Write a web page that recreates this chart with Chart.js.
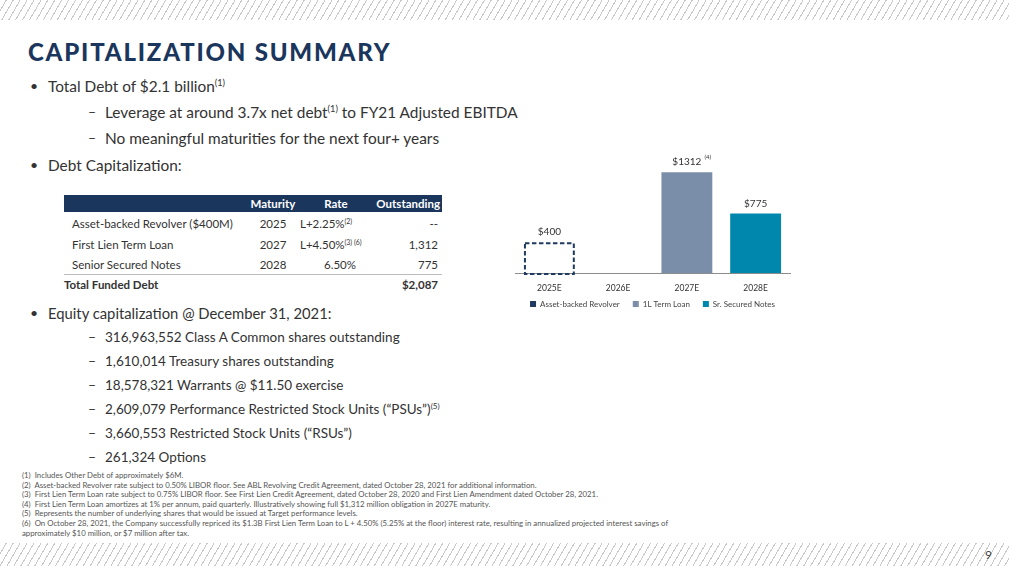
<!DOCTYPE html>
<html>
<head>
<meta charset="utf-8">
<script src="https://cdn.jsdelivr.net/npm/chart.js@4.4.1/dist/chart.umd.min.js"></script>
<style>
  html, body { margin: 0; padding: 0; }
  body { width: 1009px; height: 566px; position: relative; overflow: hidden; background: #fff; font-family: Lato, "Open Sans", sans-serif; color: #333; }
  .hatch { position: absolute; left: 0; width: 1009px;
    background: repeating-linear-gradient(120deg, #fff 0px, #fff 5px, #c9c9c9 5px, #c9c9c9 6px); }
  #title { position: absolute; left: 28px; top: 37px; font-size: 24px; font-weight: 900; letter-spacing: 1.8px; color: #1b365d; white-space: nowrap; }
  .line { position: absolute; line-height: 18px; white-space: nowrap; color: #333; }
  .line sup, .cell sup { font-size: 0.6em; vertical-align: 0.6em; line-height: 0; }
  .bul { position: absolute; font-size: 14px; line-height: 18px; }
  #tbl { position: absolute; left: 64px; top: 195px; width: 378px; }
  #thead { position: absolute; left: 0; top: 0; width: 378px; height: 17px; background: #1b365d; }
  .cell { position: absolute; font-size: 11.5px; line-height: 14px; white-space: nowrap; color: #333; }
  .hcell { color: #fff; font-weight: 700; }
  #rule { position: absolute; left: 0; top: 79px; width: 378px; height: 1px; background: #bbb; }
  #notes { position: absolute; left: 22px; top: 471px; font-size: 7.8px; line-height: 9.6px; color: #555; white-space: nowrap; }
  #page { position: absolute; left: 985px; top: 547px; font-size: 12px; color: #444; }
  #chartBox { position: absolute; left: 510px; top: 140px; width: 285px; height: 178px; }
</style>
</head>
<body>
<div class="hatch" style="top:0;height:20px"></div>
<div class="hatch" style="top:543px;height:23px"></div>

<div id="title">CAPITALIZATION SUMMARY</div>
<div id="text"></div>

<div id="tbl">
  <div id="thead"></div>
  <div id="rule"></div>
</div>

<div id="notes"></div>
<div id="page">9</div>

<div id="chartBox"><canvas id="debtChart"></canvas></div>

<script>
// Maturity chart data
const years = ["2025E", "2026E", "2027E", "2028E"];
const revolver = [400, null, null, null];
const termLoan = [null, null, 1312, null];
const securedNotes = [null, null, null, 775];
const seriesNames = ["Asset-backed Revolver", "1L Term Loan", "Sr. Secured Notes"];
const valueNotes = ["", "", "(4)", ""];

// Table data
const tableHeader = ["Maturity", "Rate", "Outstanding"];
const tableLabels = ["Asset-backed Revolver ($400M)", "First Lien Term Loan", "Senior Secured Notes"];
const tableMaturity = ["2025", "2027", "2028"];
const tableRate = ["L+2.25%<sup>(2)</sup>", "L+4.50%<sup>(3) (6)</sup>", "6.50%"];
const tableOutstanding = ["--", "1,312", "775"];
const tableTotal = ["Total Funded Debt", "$2,087"];

const bullets = [
  { y: 86, lvl: 0, size: 15.4, html: "Total Debt of $2.1 billion<sup>(1)</sup>" },
  { y: 112, lvl: 1, size: 15.4, html: "Leverage at around 3.7x net debt<sup>(1)</sup> to FY21 Adjusted EBITDA" },
  { y: 138, lvl: 1, size: 15.4, html: "No meaningful maturities for the next four+ years" },
  { y: 165, lvl: 0, size: 15.4, html: "Debt Capitalization:" },
  { y: 313, lvl: 0, size: 14.8, html: "Equity capitalization @ December 31, 2021:" },
  { y: 337, lvl: 1, size: 13.5, html: "316,963,552 Class A Common shares outstanding" },
  { y: 361, lvl: 1, size: 13.5, html: "1,610,014 Treasury shares outstanding" },
  { y: 385, lvl: 1, size: 13.5, html: "18,578,321 Warrants @ $11.50 exercise" },
  { y: 409, lvl: 1, size: 13.5, html: "2,609,079 Performance Restricted Stock Units (\u201cPSUs\u201d)<sup>(5)</sup>" },
  { y: 433, lvl: 1, size: 13.5, html: "3,660,553 Restricted Stock Units (\u201cRSUs\u201d)" },
  { y: 457, lvl: 1, size: 13.5, html: "261,324 Options" },
];

const footnotes = [
  "(1)&nbsp;&nbsp;Includes Other Debt of approximately $6M.",
  "(2)&nbsp;&nbsp;Asset-backed Revolver rate subject to 0.50% LIBOR floor. See ABL Revolving Credit Agreement, dated October 28, 2021 for additional information.",
  "(3)&nbsp;&nbsp;First Lien Term Loan rate subject to 0.75% LIBOR floor. See First Lien Credit Agreement, dated October 28, 2020 and First Lien Amendment dated October 28, 2021.",
  "(4)&nbsp;&nbsp;First Lien Term Loan amortizes at 1% per annum, paid quarterly. Illustratively showing full $1,312 million obligation in 2027E maturity.",
  "(5)&nbsp;&nbsp;Represents the number of underlying shares that would be issued at Target performance levels.",
  "(6)&nbsp;&nbsp;On October 28, 2021, the Company successfully repriced its $1.3B First Lien Term Loan to L + 4.50% (5.25% at the floor) interest rate, resulting in annualized projected interest savings of",
  "approximately $10 million, or $7 million after tax.",
];

const navy = "#1f3a60";
const slate = "#7b8ea9";
const teal = "#0087ae";

// Bullet text
const textBox = document.getElementById("text");
bullets.forEach(b => {
  const mark = document.createElement("div");
  mark.className = "bul";
  mark.textContent = b.lvl === 0 ? "\u2022" : "\u2013";
  mark.style.left = (b.lvl === 0 ? 30 : 88) + "px";
  mark.style.top = (b.y - 9) + "px";
  textBox.appendChild(mark);
  const line = document.createElement("div");
  line.className = "line";
  line.innerHTML = b.html;
  line.style.fontSize = b.size + "px";
  line.style.left = (b.lvl === 0 ? 48 : 105) + "px";
  line.style.top = (b.y - 9) + "px";
  textBox.appendChild(line);
});

// Table
const tbl = document.getElementById("tbl");
function addCell(html, x, y, align, cls) {
  const c = document.createElement("div");
  c.className = "cell" + (cls ? " " + cls : "");
  c.innerHTML = html;
  c.style.top = (y - 7) + "px";
  if (align === "right") c.style.right = (378 - x) + "px";
  else if (align === "center") { c.style.left = (x - 50) + "px"; c.style.width = "100px"; c.style.textAlign = "center"; }
  else c.style.left = x + "px";
  tbl.appendChild(c);
  return c;
}
addCell(tableHeader[0], 209, 9, "center", "hcell");
addCell(tableHeader[1], 272, 9, "center", "hcell");
addCell(tableHeader[2], 376, 9, "right", "hcell");
const rowY = [29, 50, 70];
tableLabels.forEach((lab, i) => {
  addCell(lab, 8, rowY[i], "left");
  addCell(tableMaturity[i], 209, rowY[i], "center");
  if (i < 2) addCell(tableRate[i], 236, rowY[i], "left");
  else addCell(tableRate[i], 276, rowY[i], "center");
  addCell(tableOutstanding[i], 374, rowY[i], "right");
});
addCell(tableTotal[0], 0, 90, "left").style.fontWeight = "700";
addCell(tableTotal[1], 374, 90, "right").style.fontWeight = "700";

document.getElementById("notes").innerHTML = footnotes.join("<br>");

// Dashed outline + value labels drawn from the bar elements
const barLabels = {
  id: "barLabels",
  afterDatasetsDraw(chart) {
    const ctx = chart.ctx;
    ctx.save();
    chart.data.datasets.forEach((ds, di) => {
      const meta = chart.getDatasetMeta(di);
      meta.data.forEach((bar, i) => {
        const v = ds.data[i];
        if (v == null) return;
        const p = bar.getProps(["x", "y", "base", "width"], true);
        if (di === 0) {
          ctx.setLineDash([4.5, 2.5]);
          ctx.lineWidth = 2;
          ctx.strokeStyle = navy;
          ctx.strokeRect(p.x - p.width / 2 + 1, p.y + 1, p.width - 2, p.base - p.y);
          ctx.setLineDash([]);
        }
        ctx.fillStyle = "#333";
        ctx.font = "10px Lato, sans-serif";
        ctx.textAlign = "center";
        ctx.textBaseline = "bottom";
        const txt = "$" + v;
        ctx.fillText(txt, p.x, p.y - 5);
        if (valueNotes[i]) {
          const w = ctx.measureText(txt).width;
          ctx.font = "6px Lato, sans-serif";
          ctx.textAlign = "left";
          ctx.fillText(valueNotes[i], p.x + w / 2 + 3, p.y - 12);
        }
      });
    });
    ctx.restore();
  }
};

const legendColors = [navy, slate, teal];

new Chart(document.getElementById("debtChart"), {
  type: "bar",
  data: {
    labels: years,
    datasets: [
      { label: seriesNames[0], data: revolver, backgroundColor: "rgba(0,0,0,0)", borderWidth: 0 },
      { label: seriesNames[1], data: termLoan, backgroundColor: slate, borderWidth: 0 },
      { label: seriesNames[2], data: securedNotes, backgroundColor: teal, borderWidth: 0 },
    ]
  },
  options: {
    responsive: true,
    maintainAspectRatio: false,
    animation: false,
    layout: { padding: { top: 10, left: 5, right: 5, bottom: 0 } },
    datasets: { bar: { categoryPercentage: 1, barPercentage: 0.74, grouped: false } },
    scales: {
      x: {
        stacked: true,
        grid: { display: false, drawTicks: false },
        border: { display: true, color: "#8c8c8c", width: 1 },
        ticks: { color: "#333", font: { family: "Lato", size: 8.5 }, padding: 10 },
        afterFit(scale) { scale.height = 20; }
      },
      y: { stacked: true, display: false, min: 0, max: 1600 }
    },
    plugins: {
      tooltip: { enabled: false },
      legend: {
        position: "bottom",
        labels: {
          boxWidth: 6, boxHeight: 6, padding: 7, color: "#444",
          font: { family: "Lato", size: 8 },
          generateLabels(chart) {
            // em space after the first two labels widens the gap between items
            return chart.data.datasets.map((ds, i) => ({
              text: ds.label + (i < 2 ? "\u2003" : ""),
              fillStyle: legendColors[i], strokeStyle: legendColors[i],
              lineWidth: 0, datasetIndex: i, fontColor: "#444"
            }));
          }
        }
      }
    }
  },
  plugins: [barLabels]
});
</script>
</body>
</html>
